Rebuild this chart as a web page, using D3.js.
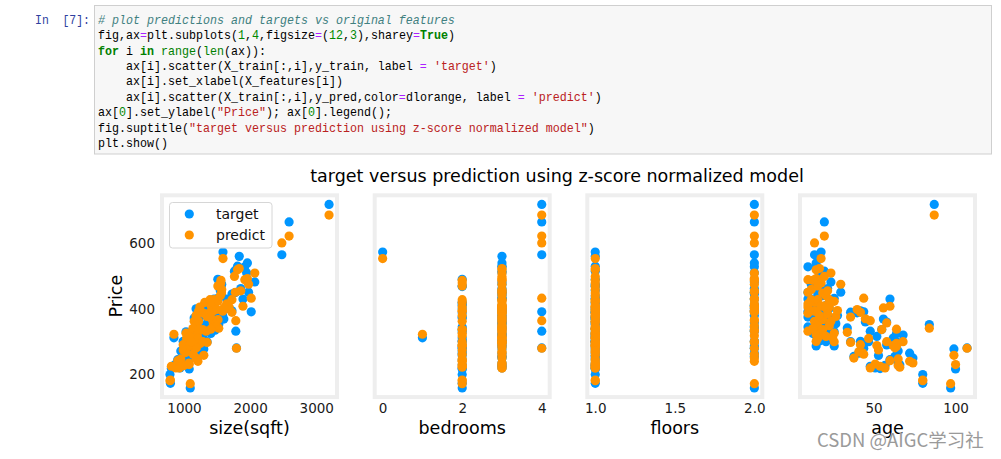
<!DOCTYPE html>
<html><head><meta charset="utf-8">
<script src="https://cdn.jsdelivr.net/npm/d3@7"></script>
<style>
body{margin:0;background:#fff;}
svg{display:block;}
.code{font-family:"Liberation Mono","DejaVu Sans Mono",monospace;font-size:13px;}
.mpl{font-family:"DejaVu Sans",sans-serif;}
</style>
</head><body>
<svg id="c" width="1001" height="459"></svg>
<script>
// ---------------- data ----------------
const sizeSqft = [952,1244,1947,1725,1959,1314,864,1836,1026,3194,788,1200,1557,1430,1220,1092,848,1682,1777,1040,
  1240,1590,2590,2480,2017,1794,1784,1095,1211,795,1300,1079,1526,1920,1810,2071,1763,1559,1571,1568,
  1455,1726,1394,1513,1292,1585,1414,1660,1348,1221,1515,1154,1336,1177,1470,1074,1282,1099,1248,1031,
  1088,1056,1645,1549,1512,1859,1454,1183,1420,1134,1350,1206,1350,988,1023,1184,1497,1154,989,940,
  879,1603,1892,1443,1231,1406,1087,1188,998,905,928,809,1077,1420,1208,1110,1390,1286,1140,1977];
const bedrooms = [2,3,3,3,3,2,2,3,3,4,2,2,2,3,2,2,1,3,3,3,
  2,0,4,4,4,4,4,2,2,2,3,2,3,3,3,3,3,2,3,3,
  3,3,2,3,3,3,3,3,3,3,3,2,3,3,3,3,2,3,3,2,
  3,3,3,3,2,3,2,2,3,3,3,3,3,2,3,3,3,3,2,3,
  3,3,3,3,2,3,2,3,3,2,3,2,3,3,3,2,3,3,2,3];
const floors = [1,1,2,2,2,1,1,1,1,2,1,2,1,1,1,1,1,2,2,1,
  1,1,2,2,2,2,2,2,2,1,1,1,1,2,1,2,1,1,1,1,
  1,2,1,1,1,2,1,2,1,1,2,1,2,1,2,1,2,1,2,1,
  1,1,2,1,1,2,2,1,1,1,1,1,2,1,1,2,1,1,1,1,
  1,1,2,1,1,1,1,1,1,1,1,1,1,1,1,1,1,1,2,2];
const age = [65,64,17,42,15,14,66,17,43,87,80,17,18,20,15,64,17,23,10,16,
  10,18,20,14,44,107,48,97,72,80,99,100,84,10,15,24,20,13,12,19,
  12,16,23,26,10,14,18,21,27,14,19,24,10,16,23,15,19,25,15,26,
  21,26,10,21,16,22,11,17,28,13,22,34,36,42,41,38,40,52,53,51,
  48,56,60,58,55,64,62,63,65,60,57,54,74,45,47,58,36,68,44,30];
const priceTarget = [271.5,300,509.8,394,540,415,230,560,294,718.2,200,302,468,374.2,388,282,311.8,401,449.8,301,
  375,573,665,565,391,281,332,159,265,173,278,217,352,528,530,482,515,470,475,440,
  430,445,420,432,392,380,398,410,355,368,358,372,345,340,335,318,345,306,287,330,
  300,287,430,456,490,462,410,400,380,325,405,342,300,301,265,255,388,316,258,220,
  225,369,430,360,337,325,311,255,235,245,228,218,250,360,300,290,390,320,280,451];
const pricePred = [247.3,294.6,486.0,389.6,492.2,419.7,222.2,523.0,266.9,685.9,181.2,317.8,479.1,409.4,392.9,286.4,322.6,406.0,450.6,310.4,
  405.7,553.4,621.9,601.1,432.5,279.9,363.9,172.0,240.0,183.1,258.3,230.1,341.1,489.1,518.9,509.1,498.9,487.1,459.1,448.0,
  427.9,428.1,428.0,422.9,386.9,393.1,408.0,402.9,377.0,361.9,366.9,361.9,332.0,347.2,348.9,320.9,337.0,312.9,300.9,325.9,
  315.9,300.0,415.1,439.9,470.0,455.1,394.9,380.0,394.9,340.0,385.0,328.5,297.6,290.9,269.0,249.9,398.0,288.1,274.9,232.0,
  220.0,403.0,408.0,357.0,337.0,338.2,288.1,281.1,227.0,242.0,219.9,225.0,235.0,369.9,310.0,300.1,375.1,300.0,262.0,475.0];

const featureNames = ["size(sqft)","bedrooms","floors","age"];
const yTickValues = [200,400,600];
const xTickValues = [[1000,2000,3000],[0,2,4],[1.0,1.5,2.0],[50,100]];
const xTickLabels = [["1000","2000","3000"],["0","2","4"],["1.0","1.5","2.0"],["50","100"]];
const seriesNames = ["target","predict"];
const seriesColors = ["#0096ff","#FF9300"];
const titleText = "target versus prediction using z-score normalized model";
const yLabelText = "Price";
const promptText = "In  [7]:";
const watermarkText = "CSDN @AIGC学习社";
// code cell tokens: [text, kind]
const codeLines = [
  [["# plot predictions and targets vs original features","cm"]],
  [["fig,ax","n"],["=","o"],["plt.subplots(","n"],["1","nm"],[",","n"],["4","nm"],[",figsize","n"],["=","o"],["(","n"],["12","nm"],[",","n"],["3","nm"],["),sharey","n"],["=","o"],["True","kw"],[")","n"]],
  [["for","kw"],[" i ","n"],["in","kw"],[" ","n"],["range","bi"],["(","n"],["len","bi"],["(ax)):","n"]],
  [["    ax[i].scatter(X_train[:,i],y_train, label ","n"],["=","o"],[" ","n"],["'target'","s"],[")","n"]],
  [["    ax[i].set_xlabel(X_features[i])","n"]],
  [["    ax[i].scatter(X_train[:,i],y_pred,color","n"],["=","o"],["dlorange, label ","n"],["=","o"],[" ","n"],["'predict'","s"],[")","n"]],
  [["ax[","n"],["0","nm"],["].set_ylabel(","n"],["\"Price\"","s"],["); ax[","n"],["0","nm"],["].legend();","n"]],
  [["fig.suptitle(","n"],["\"target versus prediction using z-score normalized model\"","s"],[")","n"]],
  [["plt.show()","n"]]
];

// ---------------- drawing ----------------
const svg = d3.select("#c");
const features = [sizeSqft, bedrooms, floors, age];
const keepSpaces = s => s.replace(/ /g, "\u00A0");

// code cell
svg.append("rect").attr("x",94.5).attr("y",5.5).attr("width",897).attr("height",148.5)
  .attr("fill","#f7f7f7").attr("stroke","#cfcfcf").attr("stroke-width",1);
const tokStyle = {
  n:{fill:"#000"}, cm:{fill:"#408080",style:"italic"}, o:{fill:"#AA22FF"},
  nm:{fill:"#008800"}, kw:{fill:"#008000",weight:"bold"}, bi:{fill:"#008000"}, s:{fill:"#BA2121"}
};
const charScale = 7 / 7.8;           // squeeze the 7.8px monospace advance to the reference's 7px
const codeY0 = 23.8, lineH = 15.4;
const code = svg.append("g").attr("class","code").attr("transform",`translate(98,0) scale(${charScale},1)`);
codeLines.forEach((toks, li) => {
  const t = code.append("text").attr("x",0).attr("y", codeY0 + li*lineH);
  toks.forEach(([s, k]) => {
    const st = tokStyle[k];
    t.append("tspan").attr("fill", st.fill)
      .attr("font-style", st.style || "normal")
      .attr("font-weight", st.weight || "normal")
      .text(keepSpaces(s));
  });
});
svg.append("g").attr("class","code").attr("transform",`translate(90,0) scale(${55/(promptText.length*7.8)},1)`)
  .append("text").attr("x",0).attr("y",codeY0).attr("text-anchor","end").attr("fill","#303F9F").text(keepSpaces(promptText));

// chart
const panelLeft = [162, 374.7, 587.3, 800];
const panelW = 175, axTop = 195.3, axBottom = 397.1;
const allY = priceTarget.concat(pricePred);
const pad = (ext) => { const r = ext[1]-ext[0]; return [ext[0]-0.05*r, ext[1]+0.05*r]; };
const yScale = d3.scaleLinear().domain(pad(d3.extent(allY))).range([axBottom, axTop]);

const chart = svg.append("g").attr("class","mpl");
chart.append("text").attr("x",557).attr("y",182).attr("text-anchor","middle")
  .attr("font-size",17.5).attr("fill","#000").text(titleText);

features.forEach((fv, i) => {
  const x0 = panelLeft[i];
  const xScale = d3.scaleLinear().domain(pad(d3.extent(fv))).range([x0, x0 + panelW]);
  const g = chart.append("g");
  g.append("rect").attr("x",x0).attr("y",axTop).attr("width",panelW).attr("height",axBottom-axTop).attr("fill","#fff");
  const clipId = "clip"+i;
  g.append("clipPath").attr("id",clipId).append("rect")
    .attr("x",x0).attr("y",axTop).attr("width",panelW).attr("height",axBottom-axTop);
  const pts = g.append("g").attr("clip-path",`url(#${clipId})`);
  [priceTarget, pricePred].forEach((ys, s) => {
    pts.selectAll(null).data(d3.range(fv.length)).enter().append("circle")
      .attr("cx", j => xScale(fv[j])).attr("cy", j => yScale(ys[j])).attr("r",4.6)
      .attr("fill", seriesColors[s]);
  });
  g.append("rect").attr("x",x0).attr("y",axTop).attr("width",panelW).attr("height",axBottom-axTop)
    .attr("fill","none").attr("stroke","#eeeeee").attr("stroke-width",4);
  const xa = d3.axisBottom(xScale).tickValues(xTickValues[i]).tickFormat((d,k)=>xTickLabels[i][k]).tickSize(0).tickPadding(0);
  const ax = g.append("g").attr("transform",`translate(0,${axBottom})`).call(xa);
  ax.select(".domain").remove();
  ax.selectAll("text").attr("font-family","DejaVu Sans").attr("font-size",13.5).attr("fill","#1a1a1a")
    .attr("dy",null).attr("y",16);
  g.append("text").attr("x",x0+panelW/2).attr("y",433.5).attr("text-anchor","middle")
    .attr("font-size",17.5).attr("fill","#000").text(featureNames[i]);
  if (i === 0) {
    const ya = d3.axisLeft(yScale).tickValues(yTickValues).tickSize(0).tickPadding(0);
    const ay = g.append("g").attr("transform",`translate(${x0-7},0)`).call(ya);
    ay.select(".domain").remove();
    ay.selectAll("text").attr("font-family","DejaVu Sans").attr("font-size",13.5).attr("fill","#1a1a1a");
    g.append("text").attr("transform",`translate(122,${(axTop+axBottom)/2}) rotate(-90)`)
      .attr("text-anchor","middle").attr("font-size",17.5).attr("fill","#000").text(yLabelText);
    const lg = g.append("g");
    lg.append("rect").attr("x",169.5).attr("y",202.5).attr("width",102.5).attr("height",45.5).attr("rx",3)
      .attr("fill","#fff").attr("fill-opacity",0.8).attr("stroke","#d6d6d6");
    seriesNames.forEach((nm, s) => {
      lg.append("circle").attr("cx",189.3).attr("cy",214 + s*21).attr("r",4.6).attr("fill",seriesColors[s]);
      lg.append("text").attr("x",216).attr("y",219 + s*20.5).attr("font-size",14).attr("fill","#111").text(nm);
    });
  }
});

svg.append("text").attr("x",817).attr("y",446.5)
  .attr("font-family","'Noto Sans CJK SC','Noto Sans',sans-serif").attr("font-size",18.5)
  .attr("fill","#9a9a9a").attr("stroke","#ffffff").attr("stroke-width",0.6).attr("paint-order","stroke")
  .text(watermarkText);
</script>
</body></html>
